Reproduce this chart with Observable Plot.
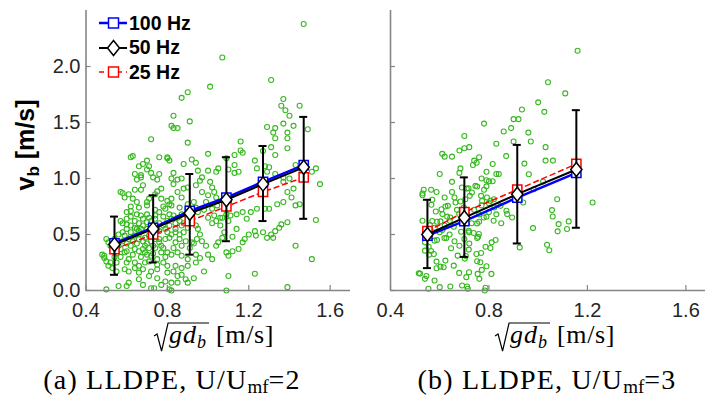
<!DOCTYPE html>
<html><head><meta charset="utf-8">
<script src="https://cdn.jsdelivr.net/npm/d3@7"></script>
<script src="https://cdn.jsdelivr.net/npm/@observablehq/plot@0.6"></script>
<style>
html,body{margin:0;padding:0;background:#fff;overflow:hidden;width:705px;height:405px;}
#root{position:relative;width:705px;height:405px;overflow:hidden;}
.panel{position:absolute;top:0;}
.ylab{position:absolute;left:27px;top:145px;transform:translate(-50%,-50%) rotate(-90deg);font:bold 25px 'Liberation Sans',Arial,sans-serif;color:#000;white-space:nowrap;}
.ylab sub{font-size:17px;vertical-align:-5px;}
.cap{position:absolute;top:381px;transform:translate(-50%,-50%);font:28px 'Liberation Serif','Times New Roman',serif;color:#000;white-space:nowrap;letter-spacing:1.2px;}
.cap sub{font-size:19px;vertical-align:-4px;letter-spacing:0;}
.legend{position:absolute;left:98px;top:11px;font:bold 19.5px 'Liberation Sans',Arial,sans-serif;color:#000;}
.legend .row{display:flex;align-items:center;height:24.5px;}
.legend svg{display:block;margin-right:1px;}
</style>
</head><body><div id="root"></div>
<script>
const xTicks = [0.4, 0.8, 1.2, 1.6];
const yTicks = [0, 0.5, 1.0, 1.5, 2.0];
const seriesNames = ["100 Hz", "50 Hz", "25 Hz"];
const captions = ["(a) LLDPE, U/U<sub>mf</sub>=2", "(b) LLDPE, U/U<sub>mf</sub>=3"];

// Panel (a) U/Umf = 2
const aX    = [0.54, 0.73, 0.91, 1.09, 1.27, 1.47];
const a100  = [0.42, 0.56, 0.71, 0.83, 0.97, 1.12];
const a50   = [0.41, 0.55, 0.69, 0.81, 0.95, 1.10];
const a25   = [0.37, 0.50, 0.62, 0.75, 0.88, 1.01];
const aLo   = [0.14, 0.25, 0.32, 0.44, 0.62, 0.64];
const aHi   = [0.66, 0.85, 1.04, 1.19, 1.29, 1.55];
const aScatter = [
[1.47,2.38],[1.07,2.08],[1.31,1.88],[1.01,1.82],[0.90,1.77],[0.87,1.72],[1.37,1.71],[1.36,1.65],[1.45,1.65],[1.38,1.61],[1.40,1.56],[0.83,1.56],[0.91,1.51],[0.82,1.47],[0.83,1.45],[0.85,1.45],[0.72,1.35],[0.90,1.32],[1.37,1.49],[1.42,1.47],[1.49,1.44],[1.29,1.46],[1.33,1.45],[1.32,1.41],[1.39,1.41],[1.33,1.36],[1.39,1.36],[1.16,1.33],[1.31,1.28],[1.39,1.27],[1.16,1.25],
[1.27,1.245],[1.33,1.21],[1.17,1.23],[1.13,1.21],[1.00,1.22],[1.09,1.18],[0.92,1.17],[0.94,1.14],[0.88,1.13],[0.63,1.20],[0.62,1.19],[0.70,1.16],[0.68,1.13],[0.66,1.11],[0.71,1.11],[0.70,1.08],[0.76,1.19],[0.80,1.19],[0.80,1.18],[0.81,1.16],[0.72,1.05],[0.76,1.04],[0.64,1.04],[0.67,1.03],[0.67,1.01],[0.65,0.99],[0.73,1.01],[0.75,0.99],[0.83,1.05],[0.85,0.99],[0.87,1.00],[0.82,1.00],[0.83,0.95],[0.77,0.91],[0.75,0.885],[0.68,0.94],[0.67,0.90],[0.64,0.90],[0.58,0.87],[0.61,0.86],[0.59,0.83],[0.63,0.82],[0.65,0.79],[0.70,0.79],[0.71,0.82],[0.74,0.86],[0.77,0.82],[0.80,0.80],[0.81,0.77],[0.82,0.82],[0.85,0.88],[0.87,0.83],[0.88,0.91],[0.90,0.92],[0.94,0.94],[0.96,0.98],[0.95,1.07],[0.97,1.01],[1.00,1.07],[1.04,1.06],[1.05,1.09],[1.10,1.08],[1.13,1.05],[1.15,1.06],[1.13,1.12],[1.23,1.16],[1.24,1.09],[1.28,1.11],[1.30,1.10],[1.29,1.06],[1.33,1.04],[1.37,1.01],[1.37,0.97],[1.40,1.00],[1.43,1.12],[1.46,1.06],[1.51,1.06],[1.53,1.09],[1.55,0.95],[1.42,0.91],[1.39,0.88],[1.41,0.83],[1.37,0.79],[1.34,0.77],[1.30,0.73],[1.28,0.73],[1.24,0.73],[1.21,0.70],[1.19,0.64],[1.17,0.70],[1.14,0.68],[1.11,0.67],[1.09,0.68],[1.07,0.65],[1.01,0.97],[1.02,0.92],[1.03,0.88],[1.04,0.83],[1.00,0.85],[0.97,0.88],[0.99,0.79],[1.02,0.73],[1.045,0.76],[1.03,0.67],[1.06,0.65],[1.04,0.62],[1.00,0.65],[0.95,0.70],[0.93,0.79],[0.90,0.73],[0.87,0.68],[0.85,0.65],[0.83,0.67],[0.81,0.68],[0.79,0.73],[0.76,0.70],[0.74,0.67],[0.71,0.65],[0.67,0.67],[0.65,0.68],[0.62,0.71],[0.60,0.70],[0.57,0.62],[0.60,0.59],[0.62,0.58],[0.65,0.55],[0.67,0.55],[0.70,0.61],[0.72,0.58],[0.75,0.55],[0.79,0.55],[0.81,0.58],[0.84,0.55],[0.87,0.58],[0.90,0.56],[0.94,0.58],[0.95,0.55],[0.96,0.50],[0.945,0.46],[0.92,0.43],[0.89,0.44],[0.86,0.46],[0.84,0.43],[0.81,0.47],[0.79,0.46],[0.76,0.43],[0.74,0.46],[0.71,0.49],[0.69,0.47],[0.66,0.50],[0.64,0.49],[0.61,0.46],[0.59,0.49],[0.56,0.50],[0.54,0.46],[0.51,0.43],[0.49,0.31],[0.49,0.29],[0.52,0.25],[0.51,0.22],[0.57,0.37],[0.60,0.35],[0.62,0.40],[0.64,0.37],[0.66,0.35],[0.68,0.37],[0.70,0.32],[0.72,0.31],[0.75,0.28],[0.80,0.34],[0.82,0.32],[0.85,0.34],[0.87,0.31],[0.90,0.28],[0.94,0.32],[0.96,0.29],[1.00,0.32],[1.02,0.28],[1.04,0.40],[1.05,0.43],[1.07,0.47],[1.09,0.34],[1.10,0.31],[1.12,0.35],[1.15,0.37],[1.17,0.43],[1.18,0.46],[1.20,0.50],[1.23,0.53],[1.235,0.49],[1.27,0.52],[1.29,0.47],[1.31,0.50],[1.33,0.53],[1.35,0.56],[1.36,0.59],[1.39,0.61],[1.43,0.76],[1.45,0.77],[1.53,0.63],[1.51,0.28],[1.43,0.40],[1.32,0.47],[1.23,0.15],[1.10,0.13],[1.39,0.03],[1.09,0.0],[0.50,0.01],[0.56,0.04],[0.60,0.04],[0.61,0.07],[0.66,0.10],[0.68,0.05],[0.72,0.02],[0.735,0.02],[0.77,0.05],[0.81,0.01],[0.82,0.0],[0.87,0.14],[0.90,0.07],[0.85,0.13],[0.83,0.17],[0.80,0.16],[0.75,0.19],[0.72,0.17],[0.71,0.13],[0.68,0.19],[0.66,0.16],[0.64,0.20],[0.61,0.17],[0.59,0.19],[0.55,0.17],[0.53,0.20],[0.55,0.25],[0.60,0.25],[0.64,0.25],[0.66,0.22],[0.69,0.25],[0.71,0.26],[0.75,0.23],[0.78,0.25],[0.80,0.22],[0.84,0.22],[0.87,0.20],[0.90,0.22],[0.94,0.25],[0.98,0.17],[0.93,0.11],[0.89,0.10],[0.85,0.07],[0.82,0.07],[0.79,0.08],[0.75,0.11],
[0.56,0.40],[0.58,0.44],[0.60,0.42],[0.62,0.48],[0.63,0.44],[0.65,0.42],[0.66,0.46],[0.68,0.44],[0.69,0.40],[0.70,0.42],[0.71,0.38],[0.72,0.44],[0.73,0.40],[0.74,0.38],[0.76,0.46],[0.77,0.40],[0.78,0.38],[0.58,0.52],[0.60,0.55],[0.62,0.52],[0.64,0.56],[0.66,0.53],[0.68,0.58],[0.70,0.55],[0.72,0.52],[0.74,0.56],[0.76,0.53],[0.78,0.58],[0.80,0.52],[0.82,0.50],[0.84,0.52],[0.86,0.50],[0.88,0.52],[0.55,0.33],[0.57,0.30],[0.59,0.34],[0.61,0.28],[0.63,0.32],[0.67,0.30],[0.69,0.34],[0.73,0.33],[0.77,0.34],[0.79,0.30],[0.83,0.38],[0.87,0.40],[0.91,0.38],[0.93,0.42],[0.97,0.44],[0.99,0.40],[0.64,0.62],[0.66,0.60],[0.68,0.64],[0.70,0.68],[0.72,0.62],[0.74,0.64],[0.76,0.60],[0.78,0.66],[0.80,0.62],[0.82,0.64],[0.84,0.60],[0.86,0.62],[0.88,0.60],[0.90,0.64],[0.92,0.62],[0.60,0.64],[0.62,0.66],[0.58,0.60],[0.53,0.36],[0.52,0.40],[0.54,0.30],[0.62,0.75],[0.66,0.74],[0.70,0.76],[0.74,0.72],[0.78,0.75],[0.82,0.76],[0.86,0.74],[0.90,0.77],[0.94,0.74],[0.98,0.72],[1.02,0.60],[1.06,0.58],[1.10,0.62],[1.14,0.55],[1.08,0.52],[1.12,0.48],[0.48,0.32],[0.50,0.26],[0.50,0.46],[0.57,0.88]
];

// Panel (b) U/Umf = 3
const bX    = [0.55, 0.70, 0.915, 1.155];
const b100  = [0.49, 0.62, 0.83, 1.05];
const b50   = [0.50, 0.65, 0.86, 1.08];
const b25   = [0.53, 0.70, 0.90, 1.13];
const bLo   = [0.20, 0.30, 0.42, 0.56];
const bHi   = [0.81, 1.01, 1.30, 1.61];
const bScatter = [
[1.16,2.14],[1.04,1.86],[1.11,1.76],[1.00,1.68],[1.025,1.595],[0.934,1.616],[0.78,1.49],[0.90,1.53],[0.92,1.53],[0.89,1.45],[0.86,1.42],[0.96,1.41],[0.97,1.33],[0.90,1.33],[0.83,1.31],[0.70,1.38],[0.68,1.25],[0.70,1.27],[0.72,1.28],[0.61,1.22],[0.62,1.195],[0.65,1.195],[0.87,1.20],[1.03,1.28],[1.03,1.16],[1.06,1.16],[0.74,1.16],[0.75,1.14],[0.76,1.19],[0.735,1.12],[0.60,1.04],[0.68,1.05],[0.684,1.09],[0.79,1.06],[0.815,1.13],[0.83,1.04],[0.84,1.04],[0.79,0.985],[0.79,0.93],[0.80,0.976],[0.815,0.976],[0.78,0.90],[0.71,0.91],[0.77,1.00],[0.65,0.97],[0.535,0.90],[0.53,0.85],[0.565,0.90],[0.587,0.88],[0.57,0.81],[0.566,0.765],[0.584,0.706],[0.607,0.726],[0.623,0.75],[0.633,0.756],[0.611,0.682],[0.643,0.652],[0.66,0.83],[0.664,0.786],[0.684,0.795],[0.698,0.741],[0.704,0.815],[0.717,0.913],[0.722,0.845],[0.731,0.875],[0.745,0.934],[0.752,0.928],[0.768,0.845],[0.772,0.80],[0.792,0.83],[0.80,0.78],[0.806,0.80],[0.82,0.815],[0.822,0.741],[0.847,0.756],[0.874,0.682],[0.871,0.712],[0.894,0.652],[0.939,0.786],[0.944,1.133],[0.962,1.038],[0.982,0.904],[1.02,0.973],[1.077,0.815],[1.056,0.718],[1.059,0.661],[1.083,0.593],[1.079,0.528],[1.117,0.549],[1.124,0.617],[1.221,0.786],[0.53,0.623],[0.56,0.584],[0.589,0.614],[0.603,0.617],[0.641,0.623],[0.679,0.682],[0.657,0.569],[0.687,0.525],[0.718,0.534],[0.752,0.599],[0.76,0.614],[0.779,0.652],[0.79,0.658],[0.819,0.623],[0.759,0.504],[0.752,0.469],[0.756,0.48],[0.738,0.513],[0.719,0.519],[0.619,0.469],[0.611,0.54],[0.579,0.445],[0.589,0.451],[0.627,0.469],[0.646,0.377],[0.673,0.311],[0.706,0.308],[0.702,0.285],[0.718,0.365],[0.749,0.326],[0.768,0.335],[0.752,0.261],[0.786,0.391],[0.811,0.43],[0.827,0.451],[0.806,0.38],[0.765,0.252],[0.79,0.216],[0.81,0.148],[0.771,0.184],[0.754,0.148],[0.761,0.104],[0.719,0.163],[0.708,0.119],[0.679,0.157],[0.657,0.222],[0.623,0.267],[0.616,0.207],[0.603,0.213],[0.587,0.258],[0.587,0.198],[0.555,0.391],[0.565,0.353],[0.54,0.356],[0.557,0.32],[0.576,0.326],[0.54,0.43],[0.52,0.151],[0.515,0.154],[0.54,0.104],[0.546,0.13],[0.579,0.089],[0.554,0.015],[0.60,0.03],[0.643,0.036],[0.691,0.044],[0.711,0.036],[0.714,0.015],[0.786,0.024],[0.783,0.0],[0.925,0.385],[0.979,0.557],[1.036,0.409],[1.045,0.359],[0.53,0.866],
[0.62,0.58],[0.64,0.50],[0.66,0.44],[0.68,0.40],[0.70,0.46],[0.72,0.42],[0.60,0.52],[0.58,0.56],[0.63,0.66],[0.67,0.72],[0.69,0.62],[0.71,0.68],[0.73,0.60],[0.74,0.72],[0.76,0.68],[0.77,0.76],[0.80,0.70],[0.83,0.68],[0.85,0.60],[0.65,0.88],[0.69,0.92],[0.62,0.83],[0.57,0.62],[0.55,0.52]
];

const GREEN = "#36b81f";
const AXIS = "#858585";
const TICKFONT = 20;
const fmt = d3.format(".1f");

// MATLAB-like diamond (slightly taller than wide)
const diamond = {
  draw(ctx, size) {
    const r = Math.sqrt(size / Math.PI);
    const hh = r * 1.25, hw = r * 1.0;
    ctx.moveTo(0, -hh); ctx.lineTo(hw, 0); ctx.lineTo(0, hh); ctx.lineTo(-hw, 0); ctx.closePath();
  }
};

function panel({X, s100, s50, s25, lo, hi, scatter, width, marginLeft, marginRight, yLabels}) {
  const rows = X.map((x, i) => ({x, v100: s100[i], v50: s50[i], v25: s25[i], lo: lo[i], hi: hi[i]}));
  const pts = scatter.map(([x, y]) => ({x, y}));
  const marks = [
    Plot.dot(pts, {x: "x", y: "y", r: 2.5, stroke: GREEN, strokeWidth: 1.1, fill: "none"}),
    Plot.ruleY([0], {stroke: AXIS, strokeWidth: 1.6}),
    Plot.ruleX([0.4], {stroke: AXIS, strokeWidth: 1.6}),
    Plot.ruleX(xTicks, {x: d => d, y1: 0, y2: 0, insetBottom: 5, stroke: AXIS, strokeWidth: 1.2}),
    Plot.ruleY(yTicks, {y: d => d, x1: 0.4, x2: 0.4, insetRight: -5, stroke: AXIS, strokeWidth: 1.2}),
    Plot.axisX({ticks: xTicks, tickSize: 0, tickPadding: 12, tickFormat: fmt, label: null, fontSize: TICKFONT, fill: "#262626"}),
    Plot.line(rows, {x: "x", y: "v100", stroke: "#0000ff", strokeWidth: 2.5}),
    Plot.line(rows, {x: "x", y: "v25", stroke: "#ff0000", strokeWidth: 1.5, strokeDasharray: "5,4"}),
    Plot.dot(rows, {x: "x", y: "v100", symbol: "square", r: 5.2, stroke: "#0000ff", strokeWidth: 1.5, fill: "white"}),
    Plot.dot(rows, {x: "x", y: "v25", symbol: "square", r: 5.2, stroke: "#ff0000", strokeWidth: 1.5, fill: "white"}),
    Plot.ruleX(rows, {x: "x", y1: "lo", y2: "hi", stroke: "#000", strokeWidth: 2}),
    Plot.ruleY(rows, {y: "lo", x1: "x", x2: "x", insetLeft: -4, insetRight: -4, stroke: "#000", strokeWidth: 2}),
    Plot.ruleY(rows, {y: "hi", x1: "x", x2: "x", insetLeft: -4, insetRight: -4, stroke: "#000", strokeWidth: 2}),
    Plot.line(rows, {x: "x", y: "v50", stroke: "#000", strokeWidth: 2}),
    Plot.dot(rows, {x: "x", y: "v50", symbol: diamond, r: 5.6, stroke: "#000", strokeWidth: 1.5, fill: "white"})
  ];
  if (yLabels) marks.push(Plot.axisY({ticks: yTicks, tickSize: 0, tickPadding: 5.5, tickFormat: fmt, label: null, fontSize: TICKFONT, fill: "#262626"}));
  return Plot.plot({
    width, height: 330, marginLeft, marginRight, marginTop: 10, marginBottom: 40,
    x: {domain: [0.4, 1.7]},
    y: yLabels ? {domain: [0, 2.5]} : {domain: [0, 2.5], axis: null},
    style: {fontFamily: "'Liberation Sans', Arial, sans-serif", fontSize: TICKFONT + "px", color: "#262626", background: "transparent", overflow: "visible"},
    marks
  });
}

const root = document.getElementById("root");
function place(node, left, w) {
  const d = document.createElement("div");
  d.className = "panel"; d.style.left = left + "px"; d.style.width = w + "px";
  d.appendChild(node); root.appendChild(d);
}
place(panel({X: aX, s100: a100, s50: a50, s25: a25, lo: aLo, hi: aHi, scatter: aScatter, width: 360, marginLeft: 85.5, marginRight: 10, yLabels: true}), 0, 360);
place(panel({X: bX, s100: b100, s50: b50, s25: b25, lo: bLo, hi: bHi, scatter: bScatter, width: 350, marginLeft: 30, marginRight: 0, yLabels: false}), 360, 350);

// y-axis title
const yl = document.createElement("div");
yl.className = "ylab"; yl.innerHTML = "v<sub>b</sub> [m/s]";
root.appendChild(yl);

// x-axis titles: sqrt(g d_b) [m/s], typeset with a drawn radical
const NS = "http://www.w3.org/2000/svg";
function xLabel(cx) {
  const W = 180, H = 46, base = 27;
  const svg = document.createElementNS(NS, "svg");
  svg.setAttribute("width", W); svg.setAttribute("height", H);
  Object.assign(svg.style, {position: "absolute", left: (cx - W / 2) + "px", top: (343 - base) + "px", overflow: "visible"});
  root.appendChild(svg);
  const serif = "'Liberation Serif','Times New Roman',serif";
  const t1 = document.createElementNS(NS, "text");
  t1.setAttribute("y", base); t1.setAttribute("font-family", serif); t1.setAttribute("font-size", 26); t1.setAttribute("font-style", "italic");
  t1.setAttribute("letter-spacing", "1");
  t1.innerHTML = '<tspan>gd</tspan><tspan font-size="18" dy="5">b</tspan>';
  const t2 = document.createElementNS(NS, "text");
  t2.setAttribute("y", base); t2.setAttribute("font-family", serif); t2.setAttribute("font-size", 26);
  t2.setAttribute("letter-spacing", "0.6");
  t2.textContent = "[m/s]";
  svg.appendChild(t1); svg.appendChild(t2);
  const w1 = t1.getComputedTextLength(), w2 = t2.getComputedTextLength();
  const radW = 14, gap = 8;
  const total = radW + w1 + 2 + gap + w2;
  const x0 = W / 2 - total / 2;
  t1.setAttribute("x", x0 + radW + 1);
  t2.setAttribute("x", x0 + radW + w1 + 2 + gap);
  const p = document.createElementNS(NS, "path");
  const top = base - 20;
  p.setAttribute("d", `M${x0},${base - 7} L${x0 + 3},${base - 9} L${x0 + 7.5},${base + 8} L${x0 + radW},${top} H${x0 + radW + w1 + 3}`);
  p.setAttribute("fill", "none"); p.setAttribute("stroke", "#000"); p.setAttribute("stroke-width", 1.2);
  p.setAttribute("stroke-linejoin", "miter");
  svg.appendChild(p);
}
xLabel(214);
xLabel(555);

[[172, 0], [547, 1]].forEach(([cx, i]) => {
  const c = document.createElement("div");
  c.className = "cap"; c.style.left = cx + "px"; c.innerHTML = captions[i];
  root.appendChild(c);
});

// legend
const legend = document.createElement("div");
legend.className = "legend";
const legendSpec = [
  {stroke: "#0000ff", dash: null, w: 2.5, shape: "square"},
  {stroke: "#000", dash: null, w: 2, shape: "diamond"},
  {stroke: "#ff0000", dash: "5,4", w: 1.5, shape: "square"}
];
legendSpec.forEach((s, i) => {
  const row = document.createElement("div"); row.className = "row";
  const shape = s.shape === "square"
    ? `<rect x="10.5" y="5" width="10" height="10" fill="white" stroke="${s.stroke}" stroke-width="1.5"/>`
    : `<path d="M15.5,2.5 L21.5,10 L15.5,17.5 L9.5,10 Z" fill="white" stroke="${s.stroke}" stroke-width="1.5"/>`;
  row.innerHTML = `<svg width="30" height="20"><line x1="1" y1="10" x2="29" y2="10" stroke="${s.stroke}" stroke-width="${s.w}" ${s.dash ? `stroke-dasharray="${s.dash}"` : ""}/>${shape}</svg><span>${seriesNames[i]}</span>`;
  legend.appendChild(row);
});
root.appendChild(legend);
</script>
</body></html>
